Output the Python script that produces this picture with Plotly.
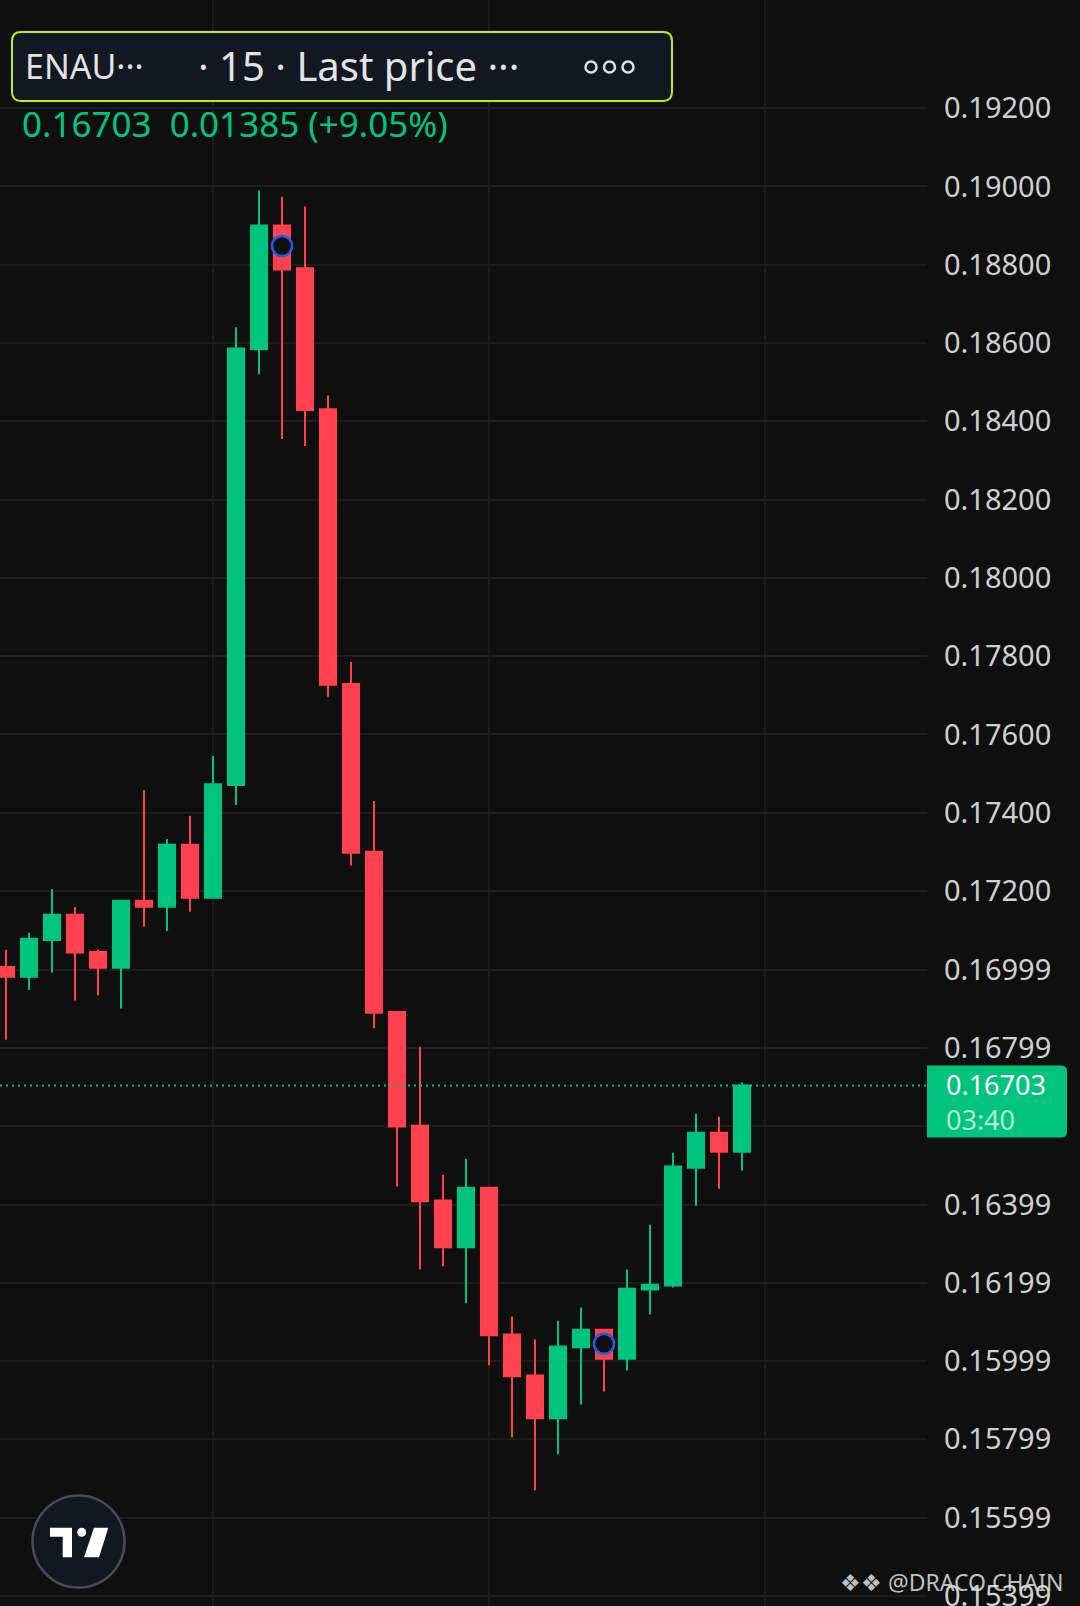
import plotly.graph_objects as go

# 15m candles, ENA/USDT style chart
OPEN = [0.17006, 0.16981, 0.17075, 0.17139, 0.17044, 0.17004, 0.17175, 0.17160, 0.17318,
        0.17183, 0.17471, 0.18584, 0.18900, 0.18791, 0.18431, 0.17729, 0.17300, 0.16891,
        0.16600, 0.16409, 0.16290, 0.16442, 0.16067, 0.15962, 0.15853, 0.16034, 0.16079,
        0.16005, 0.16182, 0.16192, 0.16493, 0.16582, 0.16534]
HIGH = [0.17050, 0.17093, 0.17205, 0.17159, 0.17050, 0.17177, 0.17458, 0.17333, 0.17392,
        0.17545, 0.18640, 0.18990, 0.18974, 0.18949, 0.18466, 0.17785, 0.17430, 0.16893,
        0.16802, 0.16475, 0.16516, 0.16444, 0.16113, 0.16054, 0.16102, 0.16136, 0.16080,
        0.16233, 0.16347, 0.16531, 0.16631, 0.16623, 0.16711]
LOW = [0.16820, 0.16947, 0.16992, 0.16920, 0.16933, 0.16900, 0.17109, 0.17098, 0.17147,
       0.17180, 0.17420, 0.18520, 0.18355, 0.18337, 0.17696, 0.17265, 0.16849, 0.16445,
       0.16233, 0.16241, 0.16147, 0.15988, 0.15804, 0.15669, 0.15761, 0.15888, 0.15921,
       0.15975, 0.16118, 0.16187, 0.16396, 0.16439, 0.16485]
CLOSE = [0.16981, 0.17078, 0.17139, 0.17043, 0.17004, 0.17175, 0.17160, 0.17318, 0.17183,
         0.17473, 0.18586, 0.18900, 0.18788, 0.18429, 0.17727, 0.17298, 0.16889, 0.16598,
         0.16407, 0.16290, 0.16442, 0.16065, 0.15960, 0.15853, 0.16036, 0.16079, 0.16005,
         0.16184, 0.16194, 0.16496, 0.16582, 0.16534, 0.16703]

# blue circle markers on two candles
SIGNAL_IDX = [12, 26]
SIGNAL_PRICE = [0.18848, 0.16043]

TICK_VALS = [0.19200, 0.19000, 0.18800, 0.18600, 0.18400, 0.18200, 0.18000, 0.17800,
             0.17600, 0.17400, 0.17200, 0.16999, 0.16799, 0.16599, 0.16399, 0.16199,
             0.15999, 0.15799, 0.15599, 0.15399]
TICK_TEXT = ["0.19200", "0.19000", "0.18800", "0.18600", "0.18400", "0.18200", "0.18000",
             "0.17800", "0.17600", "0.17400", "0.17200", "0.16999", "0.16799", "",
             "0.16399", "0.16199", "0.15999", "0.15799", "0.15599", "0.15399"]
SESSION_TICKS = [9, 21, 33]

SYMBOL = "ENAU···"
HEADER = "· 15 · Last price ···"
CHANGE_TEXT = "0.16703  0.01385 (+9.05%)"
COUNTDOWN = "03:40"
WATERMARK = "❖❖ @DRACO CHAIN"

GREEN = "#00c47e"
RED = "#ff414f"
BLUE = "#1f5fe0"
BG = "#0f0f0f"
GRID = "#1c1c1c"
FONT = "Noto Sans"

FIG_W, FIG_H = 1080, 1606
PLOT_W = 927
X_RANGE = [-0.261, 40.043]
Y_RANGE = [0.153732, 0.194764]


def paper_x(px):
    return px / PLOT_W


def paper_y(py):
    return 1 - py / FIG_H


def price_to_py(p):
    return (Y_RANGE[1] - p) / (Y_RANGE[1] - Y_RANGE[0]) * FIG_H


def round_rect(x0, y0, x1, y1, rl, rr):
    # pixel rectangle with rounded corners -> svg path in paper units
    def pt(x, y):
        return f"{paper_x(x):.5f},{paper_y(y):.5f}"

    return (
        f"M {pt(x0 + rl, y0)} L {pt(x1 - rr, y0)} Q {pt(x1, y0)} {pt(x1, y0 + rr)} "
        f"L {pt(x1, y1 - rr)} Q {pt(x1, y1)} {pt(x1 - rr, y1)} "
        f"L {pt(x0 + rl, y1)} Q {pt(x0, y1)} {pt(x0, y1 - rl)} "
        f"L {pt(x0, y0 + rl)} Q {pt(x0, y0)} {pt(x0 + rl, y0)} Z"
    )


def poly(points):
    return "M " + " L ".join(f"{paper_x(x):.5f},{paper_y(y):.5f}" for x, y in points) + " Z"


def circle(cx, cy, r, **kw):
    return dict(type="circle", xref="paper", yref="paper",
                x0=paper_x(cx - r), x1=paper_x(cx + r),
                y0=paper_y(cy + r), y1=paper_y(cy - r), **kw)


idx = list(range(len(CLOSE)))

fig = go.Figure()
fig.add_trace(
    go.Candlestick(
        x=idx,
        open=OPEN,
        high=HIGH,
        low=LOW,
        close=CLOSE,
        increasing={"fillcolor": GREEN, "line": {"color": GREEN, "width": 2}},
        decreasing={"fillcolor": RED, "line": {"color": RED, "width": 2}},
        whiskerwidth=0,
        showlegend=False,
        hoverinfo="skip",
    )
)
fig.add_trace(
    go.Scatter(
        x=SIGNAL_IDX, y=SIGNAL_PRICE, mode="markers",
        marker={"symbol": "circle", "size": 20, "color": "#0f0f0f",
                "line": {"color": BLUE, "width": 2.5}},
        showlegend=False, hoverinfo="skip",
    )
)

last = CLOSE[-1]
line_py = price_to_py(last)

shapes = [
    # last price line
    dict(type="line", xref="paper", yref="y", x0=0, x1=1, y0=last, y1=last,
         line={"color": GREEN, "width": 2, "dash": "2px,4px"}, layer="above"),
    # last price label
    dict(type="path", xref="paper", yref="paper",
         path=round_rect(PLOT_W, line_py - 20, 1067, line_py + 52, 0, 6),
         fillcolor=GREEN, line={"width": 0}, layer="above"),
    # header box
    dict(type="path", xref="paper", yref="paper",
         path=round_rect(12, 32, 672, 101, 9, 9),
         fillcolor="#131722", line={"color": "#c0ea18", "width": 2}, layer="above"),
    # tradingview badge
    circle(78.5, 1541.5, 46, fillcolor="#131722", line={"color": "#4a4a52", "width": 2.5},
           layer="above"),
    dict(type="path", xref="paper", yref="paper", layer="above",
         path=poly([(50, 1527.7), (72, 1527.7), (72, 1557.3), (62.7, 1557.3),
                    (62.7, 1536.7), (50, 1536.7)]),
         fillcolor="#ffffff", line={"width": 0}),
    circle(81.7, 1532.3, 4.5, fillcolor="#ffffff", line={"width": 0}, layer="above"),
    dict(type="path", xref="paper", yref="paper", layer="above",
         path=poly([(94, 1527.7), (108.3, 1527.7), (99, 1557.3), (84, 1557.3)]),
         fillcolor="#ffffff", line={"width": 0}),
]
for cx in (591, 609.5, 628):
    shapes.append(circle(cx, 67, 5.5, line={"color": "#e0e0e0", "width": 2.5}, layer="above"))

price_label = f"{last:.5f}<br><span style='color:#b2efd9'>{COUNTDOWN}</span>"

annotations = [
    dict(x=paper_x(23), y=paper_y(66), text=SYMBOL, font={"size": 34, "color": "#e3e3e3"}),
    dict(x=paper_x(196), y=paper_y(66), text=HEADER, font={"size": 40, "color": "#e3e3e3"}),
    dict(x=paper_x(20), y=paper_y(124), text=CHANGE_TEXT, font={"size": 35, "color": GREEN}),
    dict(x=paper_x(944), y=paper_y(line_py + 16), text=price_label, align="left",
         font={"size": 27, "color": "#ffffff"}),
    dict(x=paper_x(1066), y=paper_y(1582), text=WATERMARK, xanchor="right",
         font={"size": 23, "color": "rgba(225,225,225,0.85)"}),
]
for a in annotations:
    a.setdefault("xanchor", "left")
    a.update(xref="paper", yref="paper", yanchor="middle", showarrow=False)
    a["font"]["family"] = FONT

fig.update_layout(
    width=FIG_W,
    height=FIG_H,
    margin={"l": 0, "r": FIG_W - PLOT_W, "t": 0, "b": 0},
    paper_bgcolor=BG,
    plot_bgcolor=BG,
    boxgap=0.3,
    boxgroupgap=0,
    showlegend=False,
    font={"family": FONT, "color": "#d0d0d0"},
    shapes=shapes,
    annotations=annotations,
)
fig.update_xaxes(
    range=X_RANGE,
    automargin=False,
    rangeslider_visible=False,
    tickvals=SESSION_TICKS,
    showticklabels=False,
    showgrid=True,
    gridcolor=GRID,
    gridwidth=2,
    zeroline=False,
    showline=False,
)
fig.update_yaxes(
    range=Y_RANGE,
    automargin=False,
    side="right",
    tickvals=TICK_VALS,
    ticktext=TICK_TEXT,
    tickfont={"size": 29, "color": "#d0d0d0", "family": FONT},
    ticks="",
    ticklabelstandoff=16,
    ticklabeloverflow="allow",
    showgrid=True,
    gridcolor=GRID,
    gridwidth=2,
    zeroline=False,
    showline=False,
)

# no default body margin, and clip the half-visible bottom label so the page
# stays exactly the window size
page_js = (
    "document.body.style.margin='0';"
    f"document.body.style.background='{BG}';"
    "document.body.style.overflow='hidden';"
    "document.documentElement.style.overflow='hidden';"
    "var gd=document.getElementById('{plot_id}');"
    "gd.style.overflow='hidden';gd.style.height='1606px';"
)
fig.write_html("out.html", config={"displayModeBar": False}, post_script=page_js)
